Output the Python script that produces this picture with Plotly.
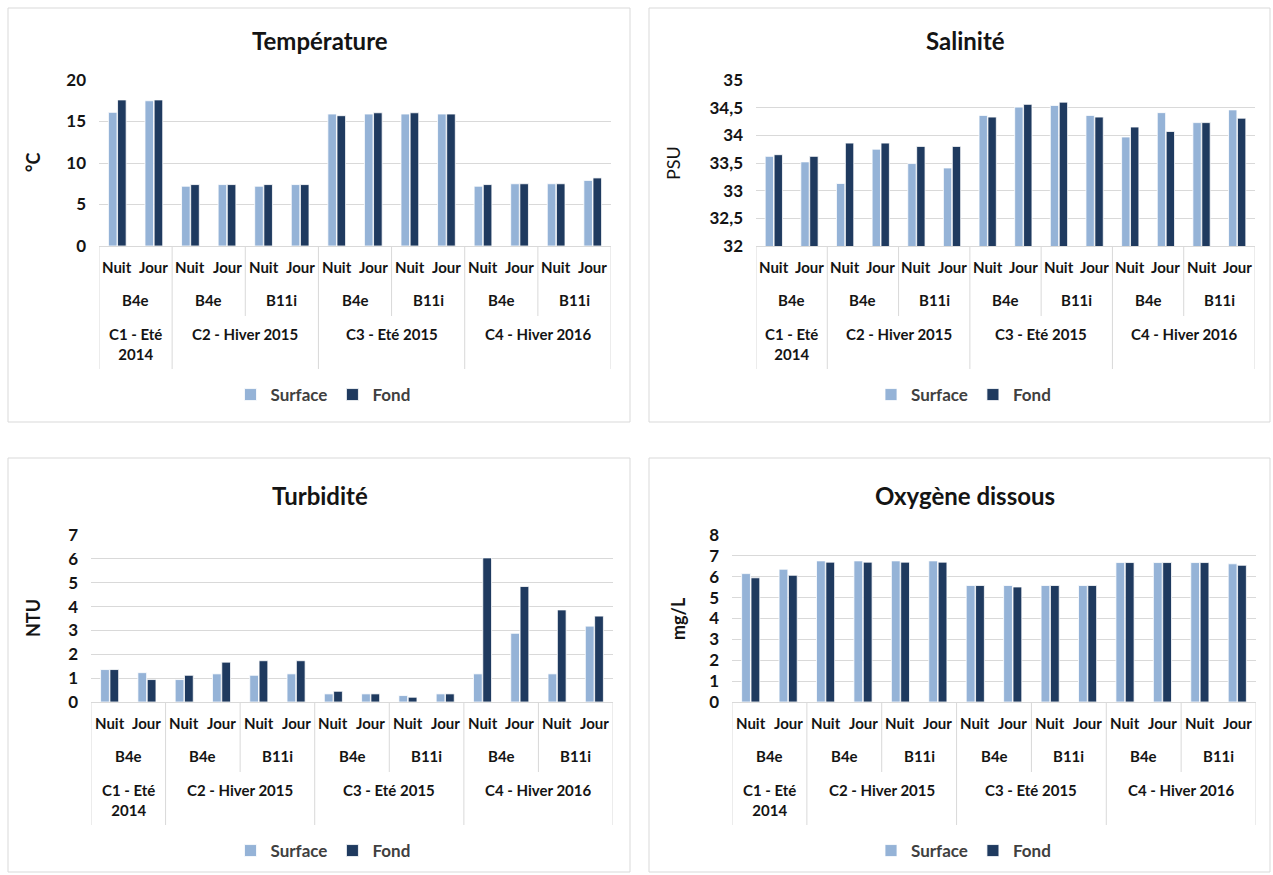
import plotly.graph_objects as go

W, H = 1273, 875

# Category hierarchy shared by the four panels
periodes = ["Nuit", "Jour"] * 7
stations = ["B4e", "B4e", "B11i", "B4e", "B11i", "B4e", "B11i"]
campagnes = ["C1 - Eté<br>2014", "C2 - Hiver 2015", "C3 - Eté 2015", "C4 - Hiver 2016"]
campagne_bornes = [(0, 1), (2, 5), (6, 9), (10, 13)]

# Measurements (Surface / Fond), one value per category
temp_surface = [16.1, 17.5, 7.2, 7.4, 7.2, 7.4, 15.9, 15.9, 15.9, 15.9, 7.2, 7.5, 7.5, 7.9]
temp_fond = [17.6, 17.6, 7.4, 7.4, 7.4, 7.4, 15.7, 16.05, 16.05, 15.9, 7.4, 7.5, 7.5, 8.2]

sal_surface = [33.62, 33.52, 33.13, 33.75, 33.49, 33.41, 34.36, 34.51, 34.54, 34.36, 33.97, 34.41, 34.23, 34.46]
sal_fond = [33.65, 33.62, 33.86, 33.86, 33.80, 33.80, 34.33, 34.56, 34.60, 34.33, 34.15, 34.07, 34.23, 34.31]

turb_surface = [1.36, 1.23, 0.94, 1.18, 1.12, 1.18, 0.34, 0.34, 0.27, 0.34, 1.18, 2.88, 1.18, 3.18]
turb_fond = [1.36, 0.94, 1.12, 1.67, 1.73, 1.73, 0.45, 0.34, 0.20, 0.34, 6.04, 4.84, 3.86, 3.60]

oxy_surface = [6.15, 6.36, 6.76, 6.76, 6.76, 6.76, 5.58, 5.58, 5.58, 5.58, 6.68, 6.68, 6.68, 6.62]
oxy_fond = [5.95, 6.07, 6.70, 6.70, 6.70, 6.70, 5.58, 5.51, 5.58, 5.58, 6.68, 6.68, 6.68, 6.55]

COL_SURFACE = "#95B3D7"
COL_FOND = "#1F3A5F"
GRID = "#D9D9D9"
TXT = "#141414"
FONT = "Lato"


def px_x(p):
    return p / W


def px_y(p):
    return 1 - p / H


# Panel geometry in pixels
panels = [
    dict(title="Température", unit="°C", unit_bold=True, surf=temp_surface, fond=temp_fond,
         yr=[0, 20], dtick=5, plot=(99, 611, 80, 246), box=(8, 630, 8, 422),
         title_xy=(320, 41), unit_xy=(33, 163), legend_y=395),
    dict(title="Salinité", unit="PSU", unit_bold=False, surf=sal_surface, fond=sal_fond,
         yr=[32, 35], dtick=0.5, plot=(756, 1255, 80, 246), box=(649, 1270, 8, 422),
         title_xy=(965, 41), unit_xy=(673, 163), legend_y=395),
    dict(title="Turbidité", unit="NTU", unit_bold=True, surf=turb_surface, fond=turb_fond,
         yr=[0, 7], dtick=1, plot=(91, 613, 535, 702), box=(8, 630, 458, 872),
         title_xy=(320, 495), unit_xy=(33, 618), legend_y=851),
    dict(title="Oxygène dissous", unit="mg/L", unit_bold=True, surf=oxy_surface, fond=oxy_fond,
         yr=[0, 8], dtick=1, plot=(732, 1256, 535, 702), box=(649, 1270, 458, 872),
         title_xy=(965, 495), unit_xy=(678, 618), legend_y=851),
]

fig = go.Figure()
annotations = []
shapes = []
xs = list(range(len(periodes)))

for k, p in enumerate(panels):
    n = "" if k == 0 else str(k + 1)
    xa, ya = "x" + n, "y" + n
    leg = "legend" + n
    x0, x1, y0, y1 = p["plot"]

    fig.add_trace(go.Bar(x=xs, y=p["surf"], name="Surface", xaxis=xa, yaxis=ya,
                         marker=dict(color=COL_SURFACE, line=dict(color="#ffffff", width=0.8)),
                         legend=leg, showlegend=True))
    fig.add_trace(go.Bar(x=xs, y=p["fond"], name="Fond", xaxis=xa, yaxis=ya,
                         marker=dict(color=COL_FOND, line=dict(color="#ffffff", width=0.8)),
                         legend=leg, showlegend=True))

    fig.layout["xaxis" + n] = dict(
        domain=[px_x(x0), px_x(x1)], anchor=ya, range=[-0.5, 13.5],
        showticklabels=False, showgrid=False, zeroline=False,
        showline=True, linecolor=GRID, linewidth=1, fixedrange=True)
    fig.layout["yaxis" + n] = dict(
        domain=[px_y(y1), px_y(y0)], anchor=xa, range=p["yr"], dtick=p["dtick"],
        showgrid=True, gridcolor=GRID, gridwidth=1, zeroline=False, showline=False,
        ticks="", ticklabelstandoff=12,
        tickfont=dict(family=FONT, size=17, color=TXT, weight="bold"), fixedrange=True)

    # panel frame
    bx0, bx1, by0, by1 = p["box"]
    shapes.append(dict(type="rect", xref="paper", yref="paper",
                       x0=px_x(bx0), x1=px_x(bx1), y0=px_y(by1), y1=px_y(by0),
                       line=dict(color=GRID, width=1), fillcolor="rgba(0,0,0,0)", layer="below"))

    # title and unit
    tx, ty = p["title_xy"]
    annotations.append(dict(text="<b>%s</b>" % p["title"], xref="paper", yref="paper",
                            x=px_x(tx), y=px_y(ty), showarrow=False, xanchor="center",
                            yanchor="middle", font=dict(family=FONT, size=24, color=TXT)))
    ux, uy = p["unit_xy"]
    utxt = "<b>%s</b>" % p["unit"] if p["unit_bold"] else p["unit"]
    annotations.append(dict(text=utxt, xref="paper", yref="paper", x=px_x(ux), y=px_y(uy),
                            showarrow=False, textangle=-90, xanchor="center", yanchor="middle",
                            font=dict(family=FONT, size=18, color=TXT)))

    # multi-level category labels
    base = y1
    for i, lab in enumerate(periodes):
        annotations.append(dict(text="<b>%s</b>" % lab, xref=xa, yref="paper", x=i,
                                y=px_y(base + 21), showarrow=False, xanchor="center",
                                yanchor="middle", font=dict(family=FONT, size=15, color=TXT)))
    for j, st in enumerate(stations):
        annotations.append(dict(text="<b>%s</b>" % st, xref=xa, yref="paper", x=2 * j + 0.5,
                                y=px_y(base + 54), showarrow=False, xanchor="center",
                                yanchor="middle", font=dict(family=FONT, size=15, color=TXT)))
    for c, (a, b) in zip(campagnes, campagne_bornes):
        annotations.append(dict(text="<b>%s</b>" % c, xref=xa, yref="paper", x=(a + b) / 2,
                                y=px_y(base + 77), showarrow=False, xanchor="center",
                                yanchor="top", font=dict(family=FONT, size=15, color=TXT)))

    # separators between station groups and between campaigns
    campagne_limites = {-0.5} | {b + 0.5 for _, b in campagne_bornes}
    for j in range(8):
        xl = 2 * j - 0.5
        depth = 123 if xl in campagne_limites else 70
        shapes.append(dict(type="line", xref=xa, yref="paper", x0=xl, x1=xl,
                           y0=px_y(base), y1=px_y(base + depth),
                           line=dict(color=GRID, width=1)))

    # legend
    lx = (bx0 + bx1) / 2 + 4
    fig.layout[leg] = dict(orientation="h", x=px_x(lx), y=px_y(p["legend_y"]), xanchor="center",
                           yanchor="middle", itemwidth=30, bgcolor="rgba(0,0,0,0)",
                           font=dict(family=FONT, size=17, color="#404040", weight="bold"),
                           itemclick=False, itemdoubleclick=False)

fig.update_layout(
    width=W, height=H, margin=dict(l=0, r=0, t=0, b=0, autoexpand=False),
    paper_bgcolor="white", plot_bgcolor="white",
    barmode="group", bargap=0.5, bargroupgap=0.06,
    separators=", ",
    annotations=annotations, shapes=shapes,
)

fig.write_html("out.html")
